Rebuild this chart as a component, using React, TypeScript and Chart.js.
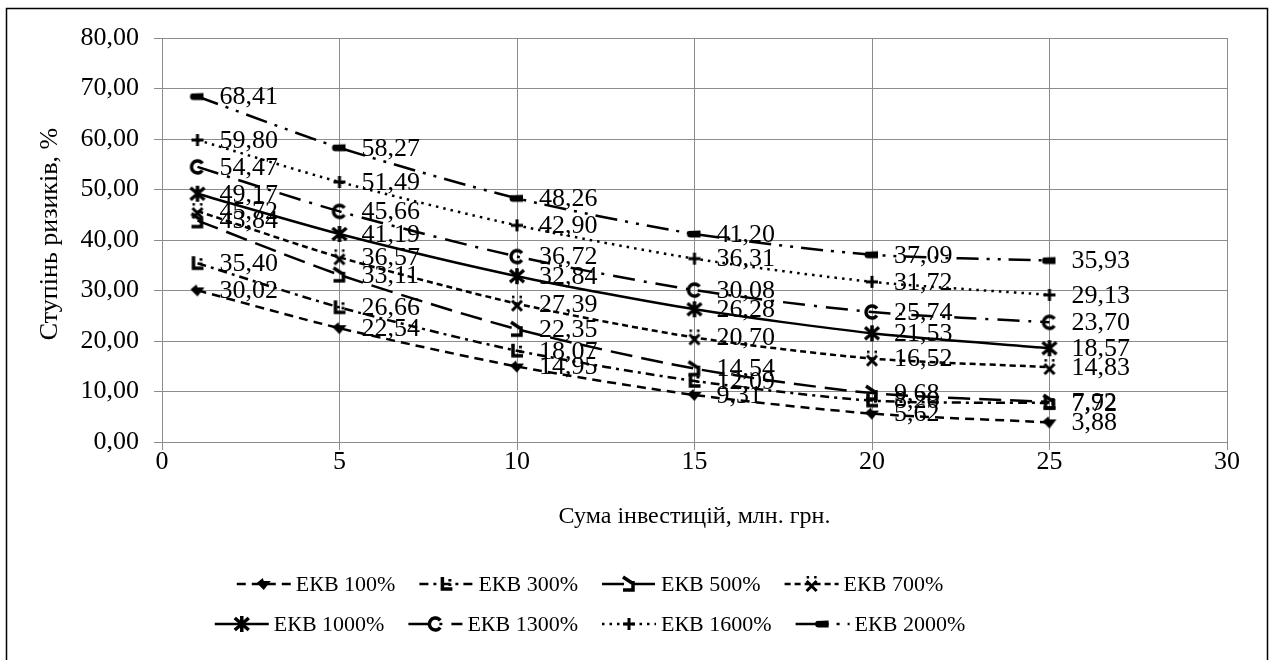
import React, { useEffect, useRef } from 'react';
import { Chart, registerables } from 'chart.js';

Chart.register(...registerables);

// ---- data ----
const investments = [1, 5, 10, 15, 20, 25];
const seriesNames = ['ЕКВ 100%', 'ЕКВ 300%', 'ЕКВ 500%', 'ЕКВ 700%', 'ЕКВ 1000%', 'ЕКВ 1300%', 'ЕКВ 1600%', 'ЕКВ 2000%'];
const ekv100 = [30.02, 22.54, 14.95, 9.31, 5.62, 3.88];
const ekv300 = [35.4, 26.66, 18.07, 12.09, 8.2, 7.72];
const ekv500 = [43.84, 33.11, 22.35, 14.54, 9.68, 7.92];
const ekv700 = [45.72, 36.57, 27.39, 20.7, 16.52, 14.83];
const ekv1000 = [49.17, 41.19, 32.84, 26.28, 21.53, 18.57];
const ekv1300 = [54.47, 45.66, 36.72, 30.08, 25.74, 23.7];
const ekv1600 = [59.8, 51.49, 42.9, 36.31, 31.72, 29.13];
const ekv2000 = [68.41, 58.27, 48.26, 41.2, 37.09, 35.93];
const seriesValues = [ekv100, ekv300, ekv500, ekv700, ekv1000, ekv1300, ekv1600, ekv2000];
const yAxisTitle = 'Ступінь ризиків, %';
const xAxisTitle = 'Сума інвестицій, млн. грн.';
const yMin = 0, yMax = 80, yStep = 10;
const xMin = 0, xMax = 30, xStep = 5;

// ---- styles ----
const FONT = '"Liberation Serif", "Times New Roman", serif';
const TFS = 26; // tick labels
const DFS = 26; // data labels
const XFS = 24; // x title
const YFS = 26; // y title
const LFS = 22; // legend
const markerKinds = ['diamond', 'ubracket', 'hook', 'xdot', 'asterisk', 'cshape', 'plus', 'dash'];
const dashes: number[][] = [
  [9, 6],
  [9, 5, 3, 5],
  [22, 9],
  [6, 4],
  [],
  [22, 9, 3, 9],
  [2.5, 5],
  [22, 8, 3, 8, 3, 8],
];
const widths = [2.5, 2.5, 2.5, 2.5, 2.5, 2.5, 2.5, 2.5];

const fmt = (v: number) => v.toFixed(2).replace('.', ',');

function drawMarker(ctx: CanvasRenderingContext2D, kind: string, x: number, y: number) {
  ctx.save();
  ctx.translate(x, y);
  ctx.setLineDash([]);
  ctx.fillStyle = '#000';
  ctx.strokeStyle = '#000';
  ctx.lineCap = 'butt';
  ctx.beginPath();
  switch (kind) {
    case 'diamond':
      ctx.moveTo(-7, -1);
      ctx.lineTo(-1, -6);
      ctx.lineTo(0, -3);
      ctx.lineTo(7, -3);
      ctx.lineTo(0, 6);
      ctx.closePath();
      ctx.fill();
      break;
    case 'ubracket':
      ctx.lineWidth = 3.5;
      ctx.moveTo(-4, -7);
      ctx.lineTo(-4, 5);
      ctx.lineTo(6, 5);
      ctx.stroke();
      ctx.fillRect(2, -5, 3, 2.5);
      ctx.fillRect(2, -0.5, 3, 2.5);
      break;
    case 'hook':
      ctx.lineWidth = 3.5;
      ctx.moveTo(-6, -7);
      ctx.lineTo(3, -1);
      ctx.moveTo(4, -3);
      ctx.lineTo(4, 6);
      ctx.lineTo(-6, 6);
      ctx.stroke();
      break;
    case 'xdot':
      ctx.lineWidth = 3;
      ctx.moveTo(-5, -3);
      ctx.lineTo(5, 7);
      ctx.moveTo(5, -3);
      ctx.lineTo(-5, 7);
      ctx.stroke();
      ctx.fillRect(-5, -8, 2.5, 2.5);
      ctx.fillRect(2.5, -8, 2.5, 2.5);
      break;
    case 'asterisk':
      ctx.lineWidth = 3.5;
      ctx.moveTo(-7, -6);
      ctx.lineTo(7, 6);
      ctx.moveTo(7, -6);
      ctx.lineTo(-7, 6);
      ctx.moveTo(0, -8);
      ctx.lineTo(0, 8);
      ctx.stroke();
      break;
    case 'cshape':
      ctx.lineWidth = 3.5;
      ctx.arc(0, 0, 6, 0.2 * Math.PI, 1.8 * Math.PI, false);
      ctx.stroke();
      break;
    case 'plus':
      ctx.lineWidth = 3;
      ctx.moveTo(-6, 0);
      ctx.lineTo(6, 0);
      ctx.moveTo(0, -6);
      ctx.lineTo(0, 6);
      ctx.stroke();
      break;
    case 'dash':
      ctx.moveTo(-6, -3);
      ctx.arc(-4, 0, 3.5, -Math.PI / 2, Math.PI / 2, true);
      ctx.lineTo(6, 3.5);
      ctx.lineTo(6, -3.5);
      ctx.closePath();
      ctx.fill();
      break;
  }
  ctx.restore();
}

function makeMarkerCanvas(kind: string): HTMLCanvasElement {
  const c = document.createElement('canvas');
  c.width = 20;
  c.height = 20;
  const ctx = c.getContext('2d')!;
  drawMarker(ctx, kind, 10, 10);
  return c;
}

const decorPlugin = {
  id: 'decor',
  afterDatasetsDraw(chart: any) {
    const ctx: CanvasRenderingContext2D = chart.ctx;
    const xs = chart.scales.x;
    const ys = chart.scales.y;
    ctx.save();
    ctx.font = `${DFS}px ${FONT}`;
    ctx.fillStyle = '#000';
    ctx.textAlign = 'left';
    ctx.textBaseline = 'middle';
    seriesValues.forEach((vals) => {
      vals.forEach((v, i) => {
        const px = xs.getPixelForValue(investments[i]);
        const py = ys.getPixelForValue(v);
        ctx.fillText(fmt(v), px + 22, py + 1);
      });
    });
    ctx.restore();
  },
  afterDraw(chart: any) {
    const ctx: CanvasRenderingContext2D = chart.ctx;
    const area = chart.chartArea;
    ctx.save();
    // outer frame
    ctx.strokeStyle = '#000';
    ctx.lineWidth = 1.5;
    ctx.strokeRect(6.5, 8.5, 1261, 700);
    // axis titles
    ctx.fillStyle = '#000';
    ctx.font = `${XFS}px ${FONT}`;
    ctx.textAlign = 'center';
    ctx.textBaseline = 'middle';
    ctx.fillText(xAxisTitle, (area.left + area.right) / 2, 517);
    ctx.save();
    ctx.font = `${YFS}px ${FONT}`;
    ctx.translate(50, 234);
    ctx.rotate(-Math.PI / 2);
    ctx.fillText(yAxisTitle, 0, 0);
    ctx.restore();
    // legend
    const rows = [[0, 1, 2, 3], [4, 5, 6, 7]];
    const rowY = [584, 624];
    const sampleW = 54;
    const gapText = 5;
    const gapItem = 24;
    const centerX = 590;
    rows.forEach((row, r) => {
      ctx.font = `${LFS}px ${FONT}`;
      const widthsItems = row.map((k) => sampleW + gapText + ctx.measureText(seriesNames[k]).width);
      const total = widthsItems.reduce((a, b) => a + b, 0) + gapItem * (row.length - 1);
      let x = centerX - total / 2;
      row.forEach((k, j) => {
        const y = rowY[r];
        ctx.save();
        ctx.strokeStyle = '#000';
        ctx.lineWidth = widths[k];
        ctx.setLineDash(dashes[k]);
        ctx.beginPath();
        ctx.moveTo(x, y);
        ctx.lineTo(x + sampleW, y);
        ctx.stroke();
        ctx.restore();
        drawMarker(ctx, markerKinds[k], x + sampleW / 2, y);
        ctx.fillStyle = '#000';
        ctx.textAlign = 'left';
        ctx.textBaseline = 'middle';
        ctx.fillText(seriesNames[k], x + sampleW + gapText, y + 1);
        x += widthsItems[j] + gapItem;
      });
    });
    ctx.restore();
  },
};

export default function App() {
  const canvasRef = useRef<HTMLCanvasElement | null>(null);
  useEffect(() => {
    if (!canvasRef.current) return;
    const markers = markerKinds.map(makeMarkerCanvas);
    const datasets = seriesValues.map((vals, k) => ({
      label: seriesNames[k],
      data: vals.map((v, i) => ({ x: investments[i], y: v })),
      borderColor: '#000',
      backgroundColor: '#000',
      borderWidth: widths[k],
      borderDash: dashes[k],
      pointStyle: markers[k],
      pointRadius: 6,
      tension: 0.25,
      showLine: true,
      fill: false,
    }));
    const gridColor = '#8c8c8c';
    const chart = new Chart(canvasRef.current, {
      type: 'scatter',
      data: { datasets },
      options: {
        animation: false,
        responsive: false,
        devicePixelRatio: 1,
        layout: { padding: { left: 0, right: 50, top: 38, bottom: 0 } },
        plugins: { legend: { display: false }, tooltip: { enabled: false } },
        scales: {
          x: {
            type: 'linear',
            min: xMin,
            max: xMax,
            afterFit: (s: any) => { s.height = 218; },
            ticks: {
              stepSize: xStep,
              color: '#000',
              font: { family: FONT, size: TFS },
              padding: -3,
              maxRotation: 0,
            },
            grid: { color: gridColor, lineWidth: 1, tickLength: 8, drawTicks: true },
            border: { color: gridColor, width: 1 },
          },
          y: {
            type: 'linear',
            min: yMin,
            max: yMax,
            afterFit: (s: any) => { s.width = 162; },
            ticks: {
              stepSize: yStep,
              color: '#000',
              font: { family: FONT, size: TFS },
              padding: 15,
              callback: (v: any) => fmt(Number(v)),
            },
            grid: { color: gridColor, lineWidth: 1, tickLength: 8, drawTicks: true },
            border: { color: gridColor, width: 1 },
          },
        },
      },
      plugins: [decorPlugin],
    } as any);
    return () => chart.destroy();
  }, []);
  return (
    <div style={{ position: 'absolute', left: 0, top: 0, width: 1277, height: 660, background: '#fff' }}>
      <canvas ref={canvasRef} width={1277} height={660} style={{ display: 'block' }} />
    </div>
  );
}
